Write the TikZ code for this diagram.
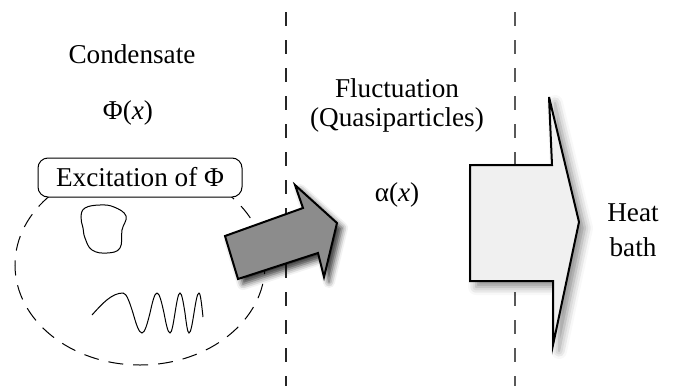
\documentclass[tikz,border=0pt]{standalone}
\usepackage{fontspec}
\setmainfont{Liberation Serif}
\usetikzlibrary{positioning, shadows.blur}

\tikzset{
  lbl/.style={font=\fontsize{13.6}{16}\selectfont, inner sep=1pt},
  divider/.style={line width=1pt, dash pattern=on 7pt off 7pt},
  flow/.style={line width=1pt, line join=miter},
}

\begin{document}
\begin{tikzpicture}[x=0.5pt, y=0.5pt]
\useasboundingbox (0,0) rectangle (686,-386);

% dividers
\coordinate (d1top) at (286,-12);
\coordinate (d1bot) at (286,-386);
\coordinate (d2top) at (515,-12);
\coordinate (d2bot) at (515,-386);
\draw[divider, black!85] (d1top) -- (d1bot);
\draw[divider, black!65] (d2top) -- (d2bot);

% condensate
\node[lbl] (cond) at (132,-54) {Condensate};
\node[lbl] (phi) at (128,-113) {Φ(\textit{x})};

\draw[line width=0.5pt, dash pattern=on 7.5pt off 5pt] (140,-265) ellipse [x radius=62.5pt, y radius=50pt];

\draw[line width=0.5pt] plot[smooth cycle, tension=0.7] coordinates
  {(81,-217) (85,-208) (100,-205) (114,-207) (126,-216) (122,-230) (120,-248)
   (107,-253) (92,-250) (85,-238) (83,-228)};

\draw[line width=0.5pt] (92,-315) sin (123,-293) cos (133,-313) sin (142,-333)
  cos (150,-313) sin (157,-293) cos (164,-313) sin (170,-333) cos (175,-313)
  sin (180,-293) cos (185,-313) sin (189,-333) cos (194,-313) sin (199,-293)
  cos (203,-317);

\node[lbl, draw, line width=0.5pt, rounded corners=5pt, fill=white,
  minimum width=102pt, minimum height=19.5pt] (exc) at (140,-177.5) {Excitation of Φ};

% fluctuation
\node[lbl] (fluct) at (397,-88) {Fluctuation};
\node[lbl] (quasi) at (397,-120) {(Quasiparticles)};
\node[lbl] (alpha) at (397,-195) {α(\textit{x})};

% arrows
\draw[flow, fill=black!45, blur shadow={shadow xshift=2.5pt, shadow yshift=-2.5pt,
  shadow blur radius=3pt, shadow opacity=80}]
  (225,-236) -- (303,-208) -- (295,-185) -- (337,-223) -- (324,-277)
  -- (318,-253) -- (238,-279) -- cycle;

\draw[flow, fill=black!6, blur shadow={shadow xshift=3pt, shadow yshift=-3pt,
  shadow blur radius=4pt, shadow opacity=45}]
  (470,-165) -- (552,-165) -- (549,-97) -- (579,-222) -- (553,-345)
  -- (553,-281) -- (470,-281) -- cycle;

% heat bath
\node[lbl] (heat) at (633,-213) {Heat};
\node[lbl] (bath) at (633,-247) {bath};

\end{tikzpicture}
\end{document}
